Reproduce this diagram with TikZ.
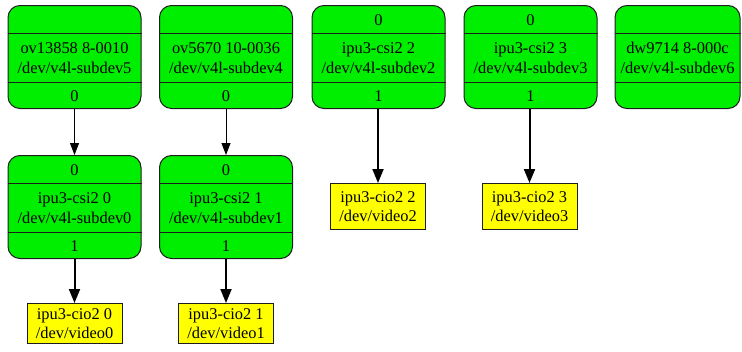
\documentclass[tikz,border=0pt]{standalone}
\usepackage{fontspec}
\setmainfont{Liberation Serif}
\usetikzlibrary{arrows.meta,calc}
\definecolor{devgreen}{RGB}{0,238,0}
\definecolor{vidyellow}{RGB}{255,255,0}
\definecolor{outline}{RGB}{30,30,30}

% A media-graph entity: rounded record with a sink-pad band,
% a name band and a source-pad band.
\newcommand\entitynode[7][133pt]{%
  \node[subdev, minimum width=#1] (#2) at (#3,#4) {};
  \draw[divider] ($(#2.north west)+(0,28)$) -- ($(#2.north east)+(0,28)$);
  \draw[divider] ($(#2.north west)+(0,77)$) -- ($(#2.north east)+(0,77)$);
  \node[lbl] (#2-sink) at ($(#2.north)+(0,15)$) {#5};
  \node[lbl] (#2-name) at ($(#2.north)+(0,53)$) {#6};
  \node[lbl] (#2-source) at ($(#2.north)+(0,91.5)$) {#7};
}

\begin{document}
\begin{tikzpicture}[x=1pt,y=-1pt,
  subdev/.style={draw=outline, line width=1pt, fill=devgreen,
    rounded corners=12pt, minimum height=103pt, inner sep=0pt, anchor=north},
  divider/.style={draw=outline, line width=1pt},
  video/.style={draw=outline, line width=1pt, fill=vidyellow,
    minimum width=95pt, inner sep=0pt, anchor=north, align=center,
    font=\fontsize{16.4}{19.5}\selectfont},
  lbl/.style={font=\fontsize{16.4}{19.5}\selectfont, align=center, inner sep=0pt},
  padlink/.style={draw=black, line width=1pt, -{Triangle[length=12pt,width=9pt]}},
  datalink/.style={draw=black, line width=2pt, -{Triangle[length=14pt,width=11pt]}},
]
\useasboundingbox (0,0) rectangle (742,351);

% sensors, lens and receivers
\entitynode{ov13858}{74.5}{5}{}{ov13858 8-0010\\/dev/v4l-subdev5}{0}
\entitynode{ov5670}{226}{5}{}{ov5670 10-0036\\/dev/v4l-subdev4}{0}
\entitynode{csi2}{378.5}{5}{0}{ipu3-csi2 2\\/dev/v4l-subdev2}{1}
\entitynode{csi3}{530.5}{5}{0}{ipu3-csi2 3\\/dev/v4l-subdev3}{1}
\entitynode[125pt]{dw9714}{677.5}{5}{}{dw9714 8-000c\\/dev/v4l-subdev6}{}
\entitynode{csi0}{74.5}{155}{0}{ipu3-csi2 0\\/dev/v4l-subdev0}{1}
\entitynode{csi1}{226}{155}{0}{ipu3-csi2 1\\/dev/v4l-subdev1}{1}

% capture video nodes
\node[video, minimum height=40pt] (cio0) at (74.5,303) {ipu3-cio2 0\\/dev/video0};
\node[video, minimum height=40pt] (cio1) at (226,303) {ipu3-cio2 1\\/dev/video1};
\node[video, minimum height=46pt] (cio2) at (378,183) {ipu3-cio2 2\\/dev/video2};
\node[video, minimum height=46pt] (cio3) at (529.5,183) {ipu3-cio2 3\\/dev/video3};

% links
\draw[padlink] (ov13858.south) -- (csi0.north);
\draw[padlink] (ov5670.south) -- (csi1.north);
\draw[datalink] (csi0.south) -- (cio0.north);
\draw[datalink] (csi1.south) -- (cio1.north);
\draw[datalink] (csi2.south -| cio2.north) -- (cio2.north);
\draw[datalink] (csi3.south -| cio3.north) -- (cio3.north);
\end{tikzpicture}
\end{document}
